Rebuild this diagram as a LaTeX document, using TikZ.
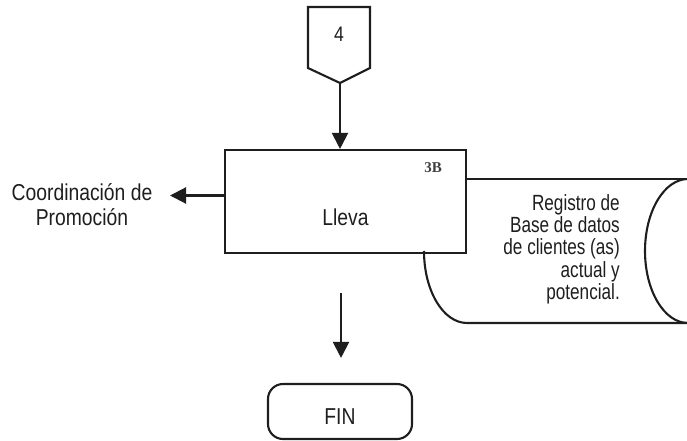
\documentclass[tikz,border=0pt]{standalone}
\usepackage{fontspec}
\setmainfont{Liberation Sans}[FakeStretch=0.84]
\newfontfamily\cylfont{Liberation Sans}[FakeStretch=0.78]
\newfontfamily\refserif{Liberation Serif}
\usetikzlibrary{arrows.meta}
\definecolor{ink}{HTML}{1E1E1E}
\begin{document}
\begin{tikzpicture}[x=1pt,y=-1pt,
  ln/.style={line width=2.1pt, draw=ink},
  arr/.style={ln, -{Triangle[length=16pt,width=16pt]}},
  txt/.style={inner sep=0pt, text=ink, font=\fontsize{23}{25}\selectfont},
  procbox/.style={ln, rectangle, inner sep=0pt, minimum width=241pt, minimum height=103pt},
  endbox/.style={ln, rectangle, rounded corners=15pt, inner sep=0pt, minimum width=144pt, minimum height=55pt}]
\useasboundingbox (0,0) rectangle (687,441);

% off-page connector
\draw[ln, line join=miter] (308,7) -- (370,7) -- (370,68) -- (340,83) -- (308,68) -- cycle;
\node[txt, font=\fontsize{21}{21}\selectfont, anchor=base] (c4) at (339,42) {4};
\coordinate (c4tip) at (340,83);

% process box
\node[procbox] (lleva) at (345.5,201.5) {};
\node[txt, anchor=base] (llevat) at (345.5,225) {Lleva};
\node[txt, text=ink!85, font=\refserif\bfseries\fontsize{15}{15}\selectfont, anchor=base] (ref) at (433,172) {3B};

% database (cylinder)
\draw[ln] (lleva.east |- 0,179) -- (687,179);
\draw[ln] (424,251) arc[start angle=180, end angle=270, x radius=43pt, y radius=72pt] -- (687,323);
\draw[ln] (688,179) arc[start angle=90, end angle=270, x radius=43pt, y radius=72pt];
\node[txt, font=\cylfont\fontsize{22}{22.3}\selectfont, align=right, anchor=base east] (db) at (620,299.5)
  {Registro de\\Base de datos\\de clientes (as)\\actual y\\potencial.};

% left label
\node[txt, align=center, anchor=base] (coord) at (82,225) {Coordinación de\\Promoción};
\coordinate (ctip) at (170,195.5);

% end
\node[endbox] (fin) at (340,411.5) {};
\node[txt, anchor=base] (fint) at (340,424) {FIN};
\coordinate (dstart) at (341,293);

% connectors
\draw[arr] (c4tip) -- (c4tip |- lleva.north);
\draw[arr] ([yshift=6pt]lleva.west) -- (ctip);
\draw[arr, shorten >=25pt] (dstart) -- (dstart |- fin.north);
\end{tikzpicture}
\end{document}
